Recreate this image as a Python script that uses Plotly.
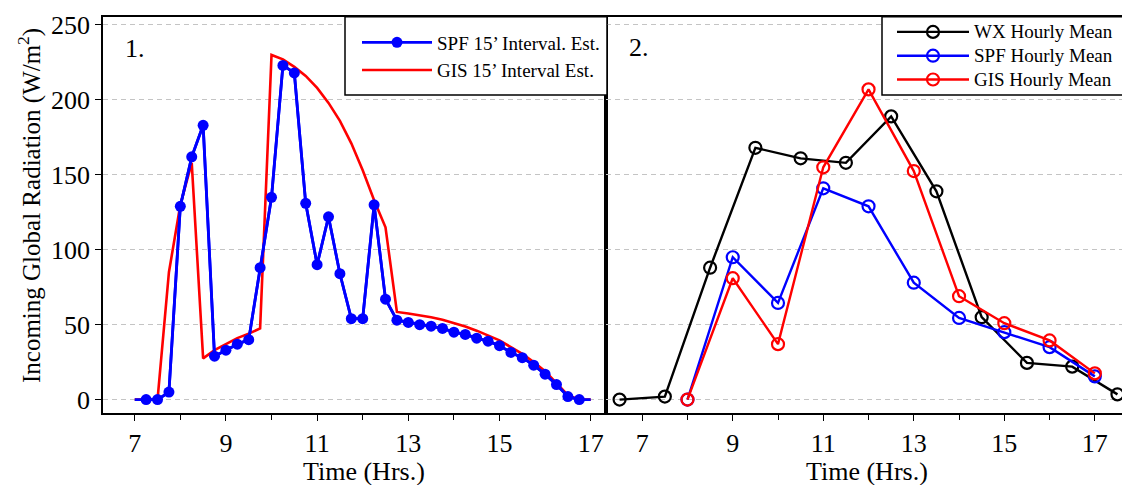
import plotly.graph_objects as go

# ---- Panel 1: 15-minute interval estimates ----
t_15min = [7.0, 7.25, 7.5, 7.75, 8.0, 8.25, 8.5, 8.75, 9.0, 9.25, 9.5, 9.75,
           10.0, 10.25, 10.5, 10.75, 11.0, 11.25, 11.5, 11.75, 12.0, 12.25, 12.5, 12.75,
           13.0, 13.25, 13.5, 13.75, 14.0, 14.25, 14.5, 14.75, 15.0, 15.25, 15.5, 15.75,
           16.0, 16.25, 16.5, 16.75, 17.0]
spf_15min = [0, 0, 0, 5, 129, 162, 183, 29, 33, 37, 40, 88,
             135, 223, 218, 131, 90, 122, 84, 54, 54, 130, 67, 53,
             51.5, 50, 49, 47.5, 45, 43.5, 41, 39, 36, 31.5, 28, 23,
             17, 10, 2, 0, 0]
gis_15min = [0, 0, 0, 85, 130, 158, 27.5, 33, 37, 41, 44, 47.5,
             230, 227, 222, 216, 208, 198, 186, 171, 153, 133, 115, 58.5,
             57.5, 56.3, 55, 53.3, 51.3, 48.8, 46, 43, 39.5, 35, 30.5, 25,
             19, 11, 3, 0, 0]

# ---- Panel 2: hourly means ----
t_wx = [6.5, 7.5, 8.5, 9.5, 10.5, 11.5, 12.5, 13.5, 14.5, 15.5, 16.5, 17.5]
wx_hourly = [0, 2, 88, 168, 161, 158, 189, 139, 55, 24.5, 22, 3.5]
t_hourly = [8, 9, 10, 11, 12, 13, 14, 15, 16, 17]
spf_hourly = [0, 95, 64.5, 141, 129, 78, 54.5, 45, 35, 15.5]
gis_hourly = [0, 81, 37, 155, 207, 152.5, 69, 51, 39.5, 17.5]

SERIF = "Liberation Serif"
BLUE, RED, BLACK = "#0000ff", "#ff0000", "#000000"

W, H = 1122, 485
ML, MR, MT, MB = 103, 0, 17, 72
PW, PH = W - ML - MR, H - MT - MB
split = (606 - ML) / PW


def px(x):
    return (x - ML) / PW


def py(y):
    return (H - MB - y) / PH


fig = go.Figure()

# panel 1
fig.add_trace(go.Scatter(x=t_15min, y=gis_15min, mode="lines", name="GIS 15\u2019 Interval Est.",
                         line=dict(color=RED, width=2.6), xaxis="x", yaxis="y",
                         legend="legend", legendrank=2))
fig.add_trace(go.Scatter(x=t_15min, y=spf_15min, mode="lines", showlegend=False,
                         line=dict(color=BLUE, width=2.8), xaxis="x", yaxis="y"))
fig.add_trace(go.Scatter(x=t_15min[1:-1], y=spf_15min[1:-1], mode="lines+markers",
                         name="SPF 15\u2019 Interval. Est.",
                         line=dict(color=BLUE, width=2.8),
                         marker=dict(color=BLUE, size=11, symbol="circle"),
                         xaxis="x", yaxis="y", legend="legend", legendrank=1))

# panel 2
open_marker = dict(symbol="circle-open", size=12, line=dict(width=2.2))
for name, xs, ys, col in [("WX Hourly Mean", t_wx, wx_hourly, BLACK),
                          ("SPF Hourly Mean", t_hourly, spf_hourly, BLUE),
                          ("GIS Hourly Mean", t_hourly, gis_hourly, RED)]:
    fig.add_trace(go.Scatter(x=xs, y=ys, mode="lines+markers",
                             name=f'<span style="font-size:19px">{name}</span>',
                             line=dict(color=col, width=2.4),
                             marker=dict(color=col, **open_marker),
                             xaxis="x2", yaxis="y2", legend="legend2"))

tickfont = dict(family=SERIF, size=26, color=BLACK)
xcommon = dict(tickmode="linear", tick0=7, dtick=2, ticks="outside", ticklen=6,
               tickwidth=1.2, tickcolor=BLACK, showline=True, linecolor=BLACK,
               linewidth=1.5, mirror=True, showgrid=False, zeroline=False,
               tickfont=tickfont,
               minor=dict(dtick=1, ticks="outside", ticklen=5, tickwidth=1.2,
                          tickcolor=BLACK, showgrid=False))
ycommon = dict(range=[-8.94, 255.3], tickmode="linear", tick0=0, dtick=50,
               showgrid=True, gridcolor="#c4c4c4", griddash="5px,4px", gridwidth=1,
               zeroline=False, showline=True, linecolor=BLACK, linewidth=1.5)

legend_common = dict(yanchor="top", xanchor="left", bgcolor="rgba(0,0,0,0)",
                     borderwidth=0)

# framed white boxes behind the two legends
legend_boxes = [
    dict(type="rect", xref="paper", yref="paper", layer="above",
         x0=px(345), x1=px(607), y0=py(95), y1=py(16.7),
         fillcolor="white", line=dict(color=BLACK, width=1.5)),
    dict(type="rect", xref="paper", yref="paper", layer="above",
         x0=px(882), x1=px(1130), y0=py(95), y1=py(16.7),
         fillcolor="white", line=dict(color=BLACK, width=1.5)),
]

label_font = dict(family=SERIF, size=26, color=BLACK)
fig.update_layout(
    width=W, height=H,
    margin=dict(l=ML, r=MR, t=MT, b=MB, autoexpand=False),
    paper_bgcolor="white", plot_bgcolor="white",
    font=dict(family=SERIF, color=BLACK),
    xaxis=dict(domain=[0, split], range=[6.304, 17.336], anchor="y", **xcommon),
    yaxis=dict(anchor="x", ticks="outside", ticklen=6, tickwidth=1.2, tickcolor=BLACK,
               mirror=True, tickfont=tickfont, **ycommon),
    xaxis2=dict(domain=[split, 1], range=[6.2, 17.6], anchor="y2", **xcommon),
    yaxis2=dict(anchor="x2", ticks="", showticklabels=False, mirror=False, **ycommon),
    legend=dict(x=px(357), y=py(23.5), itemwidth=70,
                font=dict(family=SERIF, size=19, color=BLACK), **legend_common),
    legend2=dict(x=px(892), y=py(15), itemwidth=72,
                 font=dict(family=SERIF, size=16, color=BLACK), **legend_common),
    shapes=legend_boxes,
    annotations=[
        dict(text="1.", x=px(135), y=py(49), xanchor="center", yanchor="middle",
             xref="paper", yref="paper", showarrow=False, font=label_font),
        dict(text="2.", x=px(639), y=py(47.5), xanchor="center", yanchor="middle",
             xref="paper", yref="paper", showarrow=False, font=label_font),
        dict(text="Time (Hrs.)", x=px(364), y=py(471), xanchor="center", yanchor="middle",
             xref="paper", yref="paper", showarrow=False, font=label_font),
        dict(text="Time (Hrs.)", x=px(867), y=py(471), xanchor="center", yanchor="middle",
             xref="paper", yref="paper", showarrow=False, font=label_font),
        dict(text="Incoming Global Radiation (W/m<sup>2</sup>)", x=px(29), y=py(206),
             xanchor="center", yanchor="middle", xref="paper", yref="paper",
             textangle=-90, showarrow=False, font=dict(family=SERIF, size=25, color=BLACK)),
    ],
)

fig.write_html("out.html")
